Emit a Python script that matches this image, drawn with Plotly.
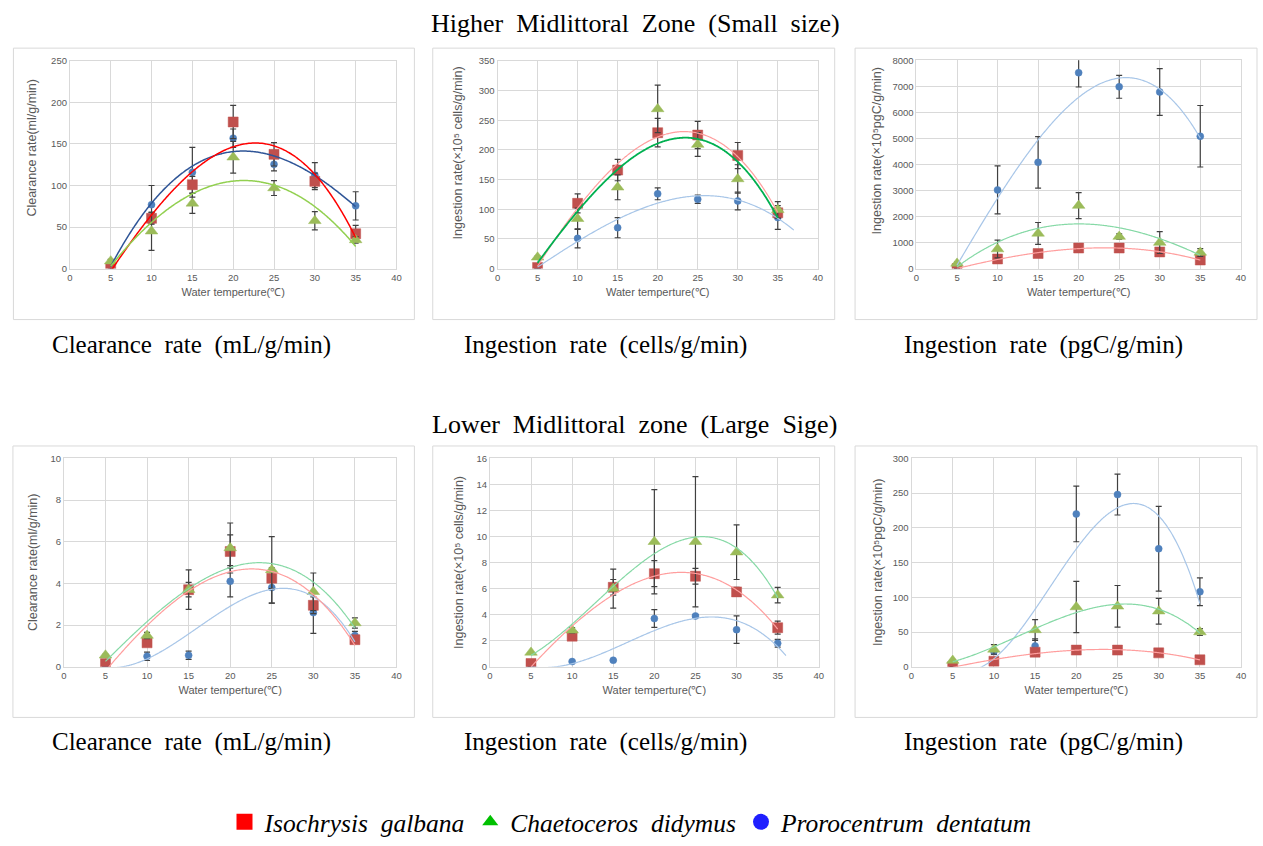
import numpy as np
import plotly.graph_objects as go

W, H = 1263, 846

temps = [5, 10, 15, 20, 25, 30, 35]
species = ["Isochrysis galbana", "Chaetoceros didymus", "Prorocentrum dentatum"]

# ---- Higher Midlittoral Zone (Small size) ----
hi_clear_ig = [0.5, 60.5, 101, 176.5, 137.5, 105, 42]
hi_clear_ig_err = [1, 7, 10, 20, 14, 10, 10]
hi_clear_cd = [9, 45, 78.5, 134, 97, 57.5, 34.5]
hi_clear_cd_err = [2, 23, 12, 19, 9, 11, 4]
hi_clear_pd = [4, 77, 116, 157, 125.5, 112.5, 75.5]
hi_clear_pd_err = [2, 23, 30, 11, 8, 15, 17]

hi_cells_ig = [2, 110, 166, 229, 225, 190.5, 94]
hi_cells_ig_err = [1, 16, 18, 24, 23, 22, 8]
hi_cells_cd = [19, 84, 137, 269, 209, 151, 99]
hi_cells_cd_err = [2, 18, 21, 40, 20, 24, 14]
hi_cells_pd = [2, 51, 69, 126, 117, 114, 86]
hi_cells_pd_err = [1, 16, 17, 10, 7, 15, 20]

hi_carbon_ig = [0, 370, 580, 790, 790, 640, 330]
hi_carbon_ig_err = [20, 50, 60, 60, 60, 60, 50]
hi_carbon_cd = [200, 750, 1350, 2420, 1230, 1000, 620]
hi_carbon_cd_err = [50, 340, 420, 500, 100, 420, 150]
hi_carbon_pd = [100, 3020, 4080, 7520, 6980, 6780, 5080]
hi_carbon_pd_err = [50, 920, 990, 550, 440, 900, 1180]

# ---- Lower Midlittoral zone (Large size) ----
lo_clear_ig = [0.15, 1.15, 3.7, 5.53, 4.25, 2.95, 1.3]
lo_clear_ig_err = [0.05, 0.15, 0.35, 0.8, 0.5, 0.4, 0.15]
lo_clear_cd = [0.55, 1.5, 3.7, 5.7, 4.65, 3.6, 2.1]
lo_clear_cd_err = [0.05, 0.15, 0.95, 1.2, 1.6, 0.9, 0.25]
lo_clear_pd = [0.05, 0.5, 0.55, 4.1, 3.8, 2.6, 1.5]
lo_clear_pd_err = [0.02, 0.2, 0.2, 0.75, 0.75, 1.0, 0.2]

lo_cells_ig = [0.25, 2.35, 6.1, 7.15, 6.95, 5.75, 3.0]
lo_cells_ig_err = [0.05, 0.15, 0.6, 1.0, 0.6, 0.35, 0.5]
lo_cells_cd = [1.1, 2.8, 6.0, 9.6, 9.6, 8.8, 5.5]
lo_cells_cd_err = [0.05, 0.2, 1.5, 4.0, 5.0, 2.1, 0.6]
lo_cells_pd = [0.05, 0.4, 0.5, 3.7, 3.9, 2.85, 1.8]
lo_cells_pd_err = [0.02, 0.05, 0.05, 0.68, 0.1, 1.05, 0.3]

lo_carbon_ig = [0, 8, 21, 24, 24, 20, 10]
lo_carbon_ig_err = [0.5, 1, 2, 2, 2, 2, 1]
lo_carbon_cd = [9, 25, 53, 86, 87, 80, 50]
lo_carbon_cd_err = [1, 7, 15, 37, 30, 18.5, 5]
lo_carbon_pd = [2, 22, 30, 220, 248, 170, 108]
lo_carbon_pd_err = [1, 4, 10, 40, 29.5, 61, 20]

x_ticks = [0, 5, 10, 15, 20, 25, 30, 35, 40]
x_title = "Water temperture(℃)"
y_titles = ["Clearance rate(ml/g/min)", "Ingestion rate(×10⁵ cells/g/min)",
            "Ingestion rate(×10⁵pgC/g/min)"] * 2
y_max = [250, 350, 8000, 10, 16, 300]
y_dtick = [50, 50, 1000, 2, 2, 50]
captions = ["Clearance rate (mL/g/min)", "Ingestion rate (cells/g/min)",
            "Ingestion rate (pgC/g/min)"] * 2
zone_titles = ["Higher Midlittoral Zone (Small size)", "Lower Midlittoral zone (Large Sige)"]

data = [
    {"pd": (hi_clear_pd, hi_clear_pd_err), "ig": (hi_clear_ig, hi_clear_ig_err), "cd": (hi_clear_cd, hi_clear_cd_err)},
    {"pd": (hi_cells_pd, hi_cells_pd_err), "ig": (hi_cells_ig, hi_cells_ig_err), "cd": (hi_cells_cd, hi_cells_cd_err)},
    {"pd": (hi_carbon_pd, hi_carbon_pd_err), "ig": (hi_carbon_ig, hi_carbon_ig_err), "cd": (hi_carbon_cd, hi_carbon_cd_err)},
    {"pd": (lo_clear_pd, lo_clear_pd_err), "ig": (lo_clear_ig, lo_clear_ig_err), "cd": (lo_clear_cd, lo_clear_cd_err)},
    {"pd": (lo_cells_pd, lo_cells_pd_err), "ig": (lo_cells_ig, lo_cells_ig_err), "cd": (lo_cells_cd, lo_cells_cd_err)},
    {"pd": (lo_carbon_pd, lo_carbon_pd_err), "ig": (lo_carbon_ig, lo_carbon_ig_err), "cd": (lo_carbon_cd, lo_carbon_cd_err)},
]

# ---- styles / layout (pixels of the 1263x846 page) ----
marker_style = {
    "ig": dict(symbol="square", size=10, color="#C0504D"),
    "cd": dict(symbol="triangle-up", size=11, color="#9BBB59"),
    "pd": dict(symbol="circle", size=7, color="#4F81BD"),
}
light = {"ig": "#FF9E9E", "cd": "#86D9A6", "pd": "#A8C6E8"}
trend_colors = [
    {"ig": "#FF0000", "cd": "#92D050", "pd": "#2F5597"},
    {"ig": "#FF9E9E", "cd": "#00B050", "pd": "#A8C6E8"},
    light, light, light, light,
]
trend_widths = [
    {"ig": 1.5, "cd": 1.5, "pd": 1.5},
    {"ig": 1.2, "cd": 1.8, "pd": 1.2},
    {"ig": 1.2, "cd": 1.2, "pd": 1.2},
    {"ig": 1.2, "cd": 1.2, "pd": 1.2},
    {"ig": 1.2, "cd": 1.2, "pd": 1.2},
    {"ig": 1.2, "cd": 1.2, "pd": 1.2},
]
trend_end = [{}, {"pd": 37}, {}, {}, {"pd": 36}, {}]

plot_px = [  # x0, x1, ytop, ybottom
    (67.3, 396, 56, 268), (497.7, 820, 56, 268), (919.3, 1245.7, 55.3, 268),
    (61.3, 396, 461.7, 674.3), (490, 821, 461.7, 674.3), (914.3, 1246, 461.7, 674.3),
]
box_px = [
    (10.5, 414, 43, 320), (432.5, 837, 43, 320), (857.5, 1262, 43, 320),
    (10, 414, 449, 726), (432.5, 837, 449, 726), (857.5, 1262, 449, 726),
]
ytitle_pos = [(29.7, 145), (458.3, 150), (880, 148), (29.7, 568), (458.3, 568), (880, 568)]
caption_pos = [(189.5, 346), (606, 346), (1047.5, 346), (189.5, 751), (606, 751), (1047.5, 751)]
title_pos = [(637, 18), (636, 427)]

GRID = "#D9D9D9"
TXT = "#595959"
SANS = "Liberation Sans"
SERIF = "Liberation Serif"
NB = "\u00a0"


def wide(s):
    # wider word spacing, like the LaTeX-set captions
    return s.replace(" ", " " + NB)


fig = go.Figure()
layout = {}
for i in range(6):
    sfx = "" if i == 0 else str(i + 1)
    xa, ya = "x" + sfx, "y" + sfx
    x0, x1, yt, yb = plot_px[i]
    layout["xaxis" + sfx] = dict(
        domain=[x0 / W, x1 / W], anchor=ya, range=[0, 40], tickvals=x_ticks,
        showgrid=True, gridcolor=GRID, gridwidth=1, zeroline=False,
        showline=True, linecolor=GRID, mirror=True, ticks="",
        tickfont=dict(family=SANS, size=9.5, color=TXT),
        title=dict(text=x_title, font=dict(family=SANS, size=11, color=TXT), standoff=6),
    )
    layout["yaxis" + sfx] = dict(
        domain=[1 - yb / H, 1 - yt / H], anchor=xa, range=[0, y_max[i]], dtick=y_dtick[i],
        showgrid=True, gridcolor=GRID, gridwidth=1, zeroline=False,
        showline=True, linecolor=GRID, mirror=True, ticks="",
        tickfont=dict(family=SANS, size=9.5, color=TXT),
    )
    for key in ["pd", "ig", "cd"]:
        vals, err = data[i][key]
        ms = marker_style[key]
        fig.add_trace(go.Scatter(
            x=temps, y=vals, mode="markers", xaxis=xa, yaxis=ya, showlegend=False,
            marker=dict(symbol=ms["symbol"], size=ms["size"], color=ms["color"],
                        line=dict(width=0.5, color=ms["color"])),
            error_y=dict(type="data", array=err, color="#404040", thickness=1.2, width=3),
            cliponaxis=True,
        ))
    for key in ["pd", "ig", "cd"]:
        vals, _ = data[i][key]
        coef = np.polyfit(temps, vals, 3)
        xs = np.linspace(temps[0], trend_end[i].get(key, temps[-1]), 200)
        fig.add_trace(go.Scatter(
            x=xs, y=np.polyval(coef, xs), mode="lines", xaxis=xa, yaxis=ya, showlegend=False,
            line=dict(color=trend_colors[i][key], width=trend_widths[i][key], shape="spline"),
            hoverinfo="skip",
        ))

# legend entries
legend_marks = [("square", "#FF0000", 16), ("triangle-up", "#00C000", 14), ("circle", "#1F1FFF", 16)]
for name, (sym, col, sz) in zip(species, legend_marks):
    fig.add_trace(go.Scatter(x=[None], y=[None], mode="markers", name=wide(name),
                             marker=dict(symbol=sym, color=col, size=sz), showlegend=True))

shapes = []
for (bx0, bx1, byt, byb) in box_px:
    shapes.append(dict(type="rect", xref="paper", yref="paper",
                       x0=bx0 / W, x1=bx1 / W, y0=1 - byb / H, y1=1 - byt / H,
                       line=dict(color=GRID, width=1), fillcolor="rgba(0,0,0,0)", layer="below"))

annotations = []
for txt, (cx, cy) in zip(y_titles, ytitle_pos):
    annotations.append(dict(text=txt, x=cx / W, y=1 - cy / H, xref="paper", yref="paper",
                            showarrow=False, xanchor="center", yanchor="middle", textangle=-90,
                            font=dict(family=SANS, size=12.5, color=TXT)))
for txt, (cx, cy) in zip(zone_titles, title_pos):
    annotations.append(dict(text=wide(txt), x=cx / W, y=1 - cy / H, xref="paper", yref="paper",
                            showarrow=False, xanchor="center", yanchor="middle",
                            font=dict(family=SERIF, size=26, color="black")))
for txt, (cx, cy) in zip(captions, caption_pos):
    annotations.append(dict(text=wide(txt), x=cx / W, y=1 - cy / H, xref="paper", yref="paper",
                            showarrow=False, xanchor="center", yanchor="middle",
                            font=dict(family=SERIF, size=25, color="black")))

fig.update_layout(
    autosize=True, margin=dict(l=0, r=0, t=0, b=0),
    paper_bgcolor="white", plot_bgcolor="white",
    shapes=shapes, annotations=annotations,
    legend=dict(orientation="h", x=632 / W, xanchor="center", y=1 - 833 / H, yanchor="middle",
                font=dict(family=SERIF, size=25.5, color="black", style="italic"),
                itemsizing="trace", bgcolor="rgba(0,0,0,0)"),
    **layout,
)

fig.write_html(
    "out.html",
    config={"displayModeBar": False, "responsive": True},
    default_width="100vw", default_height="100vh",
    post_script=(
        "var d=document.getElementById('{plot_id}');"
        "d.style.position='fixed';d.style.left='0px';d.style.top='0px';"
        "document.documentElement.style.overflow='hidden';"
        "document.documentElement.style.margin='0px';"
        "document.body.style.margin='0px';document.body.style.padding='0px';"
        "document.body.style.overflow='hidden';"
    ),
)
